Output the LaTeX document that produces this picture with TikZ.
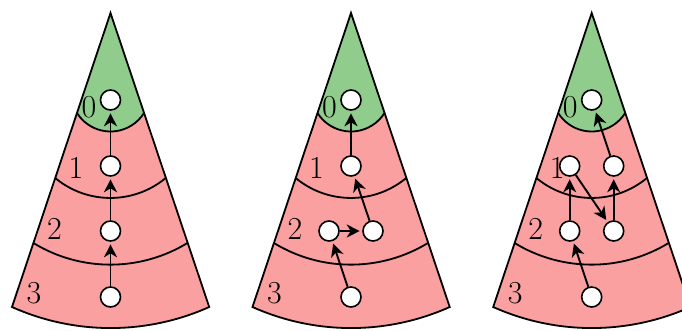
\documentclass[tikz,border=0pt]{standalone}
\usepackage{fontspec}
\usetikzlibrary{arrows.meta}
\definecolor{coneGreen}{RGB}{144,204,140}
\definecolor{conePink}{RGB}{250,160,160}
\tikzset{
  cone/.style={line width=1.8pt, line join=miter},
  vtx/.style={circle, draw, fill=white, line width=1.6pt, minimum size=20pt, inner sep=0pt},
  lvl/.style={font=\fontsize{32}{38}\selectfont, inner sep=0pt},
  arr/.style={line width=1.9pt, -{Stealth[length=13pt,width=13pt,inset=4pt]}, shorten >=2.5pt},
}
\newcommand\conebase[1]{%
  \fill[conePink] (0,13) -- (-98.5,307) arc[start angle=114.1, end angle=65.9, radius=241.5] -- cycle;
  \fill[coneGreen] (0,13) -- (-33.5,113) arc[start angle=147.8, end angle=32.2, radius=39.6] -- cycle;
  \draw[cone] (-33.5,113) arc[start angle=147.8, end angle=32.2, radius=39.6];
  \draw[cone] (-55.3,178) arc[start angle=129.7, end angle=50.3, radius=86.5];
  \draw[cone] (-77.1,243) arc[start angle=121.4, end angle=58.6, radius=147.8];
  \draw[cone] (0,13) -- (-98.5,307) arc[start angle=114.1, end angle=65.9, radius=241.5] -- cycle;
  \node[lvl] (#1l0) at (-21.5,107) {0};
  \node[lvl] (#1l1) at (-34.5,167.5) {1};
  \node[lvl] (#1l2) at (-56,229) {2};
  \node[lvl] (#1l3) at (-76.5,293.5) {3};
}
\begin{document}
\begin{tikzpicture}[x=1pt,y=-1pt]
\useasboundingbox (0,0) rectangle (682,330);
% cone 1
\begin{scope}[xshift=110.5pt]
  \conebase{a}
  \node[vtx] (a0) at (0,100) {};
  \node[vtx] (a1) at (0,166) {};
  \node[vtx] (a2) at (0,231) {};
  \node[vtx] (a3) at (0,297) {};
  \draw[arr] (a3) -- (a2);
  \draw[arr] (a2) -- (a1);
  \draw[arr] (a1) -- (a0);
\end{scope}
% cone 2
\begin{scope}[xshift=351pt]
  \conebase{b}
  \node[vtx] (b0) at (0,100) {};
  \node[vtx] (b1) at (0,166) {};
  \node[vtx] (b2a) at (-22,231) {};
  \node[vtx] (b2b) at (22,231) {};
  \node[vtx] (b3) at (0,297) {};
  \draw[arr] (b3) -- (b2a);
  \draw[arr] (b2a) -- (b2b);
  \draw[arr] (b2b) -- (b1);
  \draw[arr] (b1) -- (b0);
\end{scope}
% cone 3
\begin{scope}[xshift=591.7pt]
  \conebase{c}
  \node[vtx] (c0) at (0,100) {};
  \node[vtx] (c1a) at (-22,166) {};
  \node[vtx] (c1b) at (22,166) {};
  \node[vtx] (c2a) at (-22,231) {};
  \node[vtx] (c2b) at (22,231) {};
  \node[vtx] (c3) at (0,297) {};
  \draw[arr] (c3) -- (c2a);
  \draw[arr] (c2a) -- (c1a);
  \draw[arr] (c1a) -- (c2b);
  \draw[arr] (c2b) -- (c1b);
  \draw[arr] (c1b) -- (c0);
\end{scope}
\end{tikzpicture}
\end{document}
